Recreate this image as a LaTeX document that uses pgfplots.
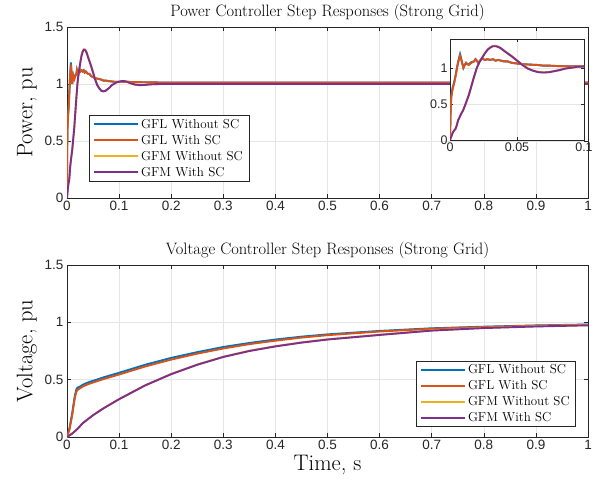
\documentclass[border=0pt]{standalone}
\usepackage{fontspec}
\usepackage{pgfplots}
\usepackage{pgfplotstable}
\pgfplotsset{compat=1.18}
\newfontfamily\ticksf{Liberation Sans}
\definecolor{mblue}{rgb}{0,0.447,0.741}
\definecolor{morange}{rgb}{0.85,0.325,0.098}
\definecolor{myellow}{rgb}{0.929,0.694,0.125}
\definecolor{mpurple}{rgb}{0.494,0.184,0.556}
\definecolor{axgray}{gray}{0.15}

\pgfplotstableread{
t      blue   orange
0      0      0
0.0005 0.47   0.44
0.001  0.62   0.60
0.002  0.73   0.71
0.003  0.79   0.78
0.004  0.88   0.87
0.005  0.98   0.97
0.006  1.08   1.07
0.0075 1.19   1.17
0.009  1.08   1.07
0.010  1.00   1.00
0.011  1.04   1.04
0.012  1.07   1.07
0.013  1.05   1.05
0.014  1.05   1.04
0.016  1.08   1.07
0.018  1.09   1.09
0.019  1.12   1.12
0.020  1.10   1.10
0.021  1.07   1.07
0.022  1.09   1.09
0.024  1.13   1.13
0.026  1.11   1.11
0.028  1.12   1.12
0.030  1.11   1.11
0.032  1.12   1.12
0.034  1.10   1.10
0.036  1.11   1.11
0.038  1.10   1.10
0.040  1.09   1.09
0.043  1.09   1.09
0.046  1.07   1.07
0.050  1.06   1.06
0.055  1.05   1.05
0.060  1.045  1.045
0.065  1.04   1.04
0.070  1.03   1.03
0.075  1.03   1.03
0.080  1.025  1.025
0.090  1.02   1.02
0.100  1.02   1.02
0.150  1.015  1.015
0.200  1.012  1.012
0.400  1.012  1.012
0.600  1.012  1.012
0.800  1.012  1.012
1.000  1.012  1.012
}\powgfl

\pgfplotstableread{
t      yellow purple
0      0      0
0.001  0.05   0.05
0.002  0.10   0.10
0.003  0.13   0.13
0.004  0.15   0.15
0.005  0.20   0.20
0.006  0.27   0.27
0.008  0.35   0.35
0.010  0.42   0.42
0.012  0.52   0.52
0.014  0.62   0.62
0.016  0.75   0.75
0.018  0.88   0.88
0.020  1.00   1.00
0.022  1.08   1.08
0.024  1.145  1.14
0.026  1.205  1.20
0.028  1.255  1.25
0.030  1.285  1.28
0.032  1.305  1.30
0.034  1.305  1.30
0.036  1.295  1.29
0.038  1.275  1.27
0.040  1.245  1.24
0.043  1.205  1.20
0.046  1.165  1.16
0.050  1.105  1.10
0.054  1.045  1.04
0.058  0.995  0.99
0.062  0.962  0.96
0.066  0.942  0.94
0.070  0.937  0.935
0.074  0.942  0.94
0.078  0.955  0.955
0.082  0.97   0.97
0.086  0.99   0.99
0.090  1.00   1.00
0.095  1.015  1.015
0.100  1.02   1.02
0.105  1.025  1.025
0.110  1.025  1.025
0.115  1.02   1.02
0.120  1.01   1.01
0.130  0.995  0.995
0.140  0.99   0.99
0.150  0.992  0.992
0.160  0.997  0.997
0.180  1.0    1.0
0.400  1.0    1.0
0.700  1.0    1.0
1.000  1.0    1.0
}\powgfm

\pgfplotstableread{
t      blue   orange
0      0      0
0.005  0.08   0.07
0.010  0.21   0.19
0.015  0.36   0.34
0.018  0.415  0.395
0.020  0.43   0.41
0.025  0.44   0.425
0.030  0.455  0.44
0.035  0.465  0.45
0.040  0.475  0.46
0.050  0.49   0.475
0.070  0.52   0.505
0.100  0.56   0.545
0.150  0.63   0.615
0.200  0.69   0.675
0.250  0.74   0.727
0.300  0.785  0.772
0.350  0.82   0.81
0.400  0.85   0.84
0.450  0.875  0.867
0.500  0.895  0.888
0.600  0.925  0.92
0.700  0.948  0.944
0.800  0.962  0.959
0.900  0.973  0.971
1.000  0.981  0.979
}\volgfl

\pgfplotstableread{
t      yellow purple
0      0      0
0.010  0.03   0.03
0.020  0.07   0.07
0.030  0.12   0.12
0.050  0.19   0.19
0.070  0.25   0.25
0.100  0.33   0.33
0.150  0.45   0.45
0.200  0.55   0.548
0.250  0.632  0.63
0.300  0.70   0.698
0.350  0.752  0.75
0.400  0.792  0.79
0.450  0.825  0.823
0.500  0.852  0.85
0.600  0.892  0.89
0.700  0.93   0.928
0.800  0.952  0.95
0.900  0.966  0.964
1.000  0.976  0.974
}\volgfm

\pgfplotsset{
  mstyle/.style={
    scale only axis,
    width=521pt,
    xmin=0, xmax=1, ymin=0, ymax=1.5,
    xtick={0,0.1,0.2,0.3,0.4,0.5,0.6,0.7,0.8,0.9,1},
    xticklabels={0,0.1,0.2,0.3,0.4,0.5,0.6,0.7,0.8,0.9,1},
    ytick={0,0.5,1,1.5},
    yticklabels={0,0.5,1,1.5},
    grid=major,
    major grid style={color=black!10, line width=0.5pt},
    axis line style={color=axgray, line width=0.5pt},
    tick style={color=axgray, line width=0.5pt},
    major tick length=4pt,
    tick align=inside,
    tick pos=both,
    ticklabel style={font=\ticksf\fontsize{13.5}{14}\selectfont, color=black!85},
    title style={font=\fontsize{16.5}{18}\selectfont, yshift=-3.5pt},
    label style={font=\fontsize{22.5}{25}\selectfont},
    ylabel style={at={(axis description cs:-0.077,0.5)}, anchor=center},
    legend style={font=\fontsize{13}{15}\selectfont, draw=axgray, fill=white,
      line width=0.6pt, inner xsep=4pt, inner ysep=1.5pt, row sep=1.4pt,
      cells={anchor=west}},
    legend image code/.code={\draw[#1, line width=2pt] plot coordinates {(0pt,0pt) (44pt,0pt)};},
    every axis plot/.append style={line width=1.9pt},
  }
}

\begin{document}
\begin{tikzpicture}
\useasboundingbox (0pt,0pt) rectangle (599pt,485pt);
% top axis
\begin{axis}[mstyle, at={(67pt,287pt)}, anchor=south west, height=171pt,
  title={Power Controller Step Responses (Strong Grid)},
  ylabel={Power, pu},
  legend style={at={(axis description cs:0.042,0.485)}, anchor=north west}]
\addplot[mblue] table[x=t,y=blue]{\powgfl};
\addplot[morange] table[x=t,y=orange]{\powgfl};
\addplot[myellow] table[x=t,y=yellow]{\powgfm};
\addplot[mpurple] table[x=t,y=purple]{\powgfm};
\legend{GFL Without SC, GFL With SC, GFM Without SC, GFM With SC}
\end{axis}
% inset
\begin{axis}[scale only axis, at={(450pt,345pt)}, anchor=south west,
  width=134pt, height=101pt,
  xmin=0, xmax=0.1, ymin=0, ymax=1.4,
  xtick={0,0.05,0.1}, xticklabels={0,0.05,0.1},
  ytick={0,0.5,1}, yticklabels={0,0.5,1},
  grid=major,
  major grid style={color=black!10, line width=0.5pt},
  axis background/.style={fill=white},
  axis line style={color=axgray, line width=0.5pt},
  tick style={color=axgray, line width=0.5pt},
  major tick length=3pt,
  tick align=inside, tick pos=both,
  xticklabel style={yshift=1pt},
  yticklabel style={xshift=1pt},
  ticklabel style={font=\ticksf\fontsize{12.5}{13}\selectfont, color=black!85},
  every axis plot/.append style={line width=1.9pt}]
\addplot[mblue] table[x=t,y=blue]{\powgfl};
\addplot[morange] table[x=t,y=orange]{\powgfl};
\addplot[myellow] table[x=t,y=yellow]{\powgfm};
\addplot[mpurple] table[x=t,y=purple]{\powgfm};
\end{axis}
% bottom axis
\begin{axis}[mstyle, at={(67pt,48pt)}, anchor=south west, height=172pt,
  title={Voltage Controller Step Responses (Strong Grid)},
  ylabel={Voltage, pu},
  xlabel={Time, s},
  xlabel style={at={(axis description cs:0.5,-0.163)}, anchor=center},
  legend style={at={(axis description cs:0.977,0.058)}, anchor=south east}]
\addplot[mblue] table[x=t,y=blue]{\volgfl};
\addplot[morange] table[x=t,y=orange]{\volgfl};
\addplot[myellow] table[x=t,y=yellow]{\volgfm};
\addplot[mpurple] table[x=t,y=purple]{\volgfm};
\legend{GFL Without SC, GFL With SC, GFM Without SC, GFM With SC}
\end{axis}
\end{tikzpicture}
\end{document}
